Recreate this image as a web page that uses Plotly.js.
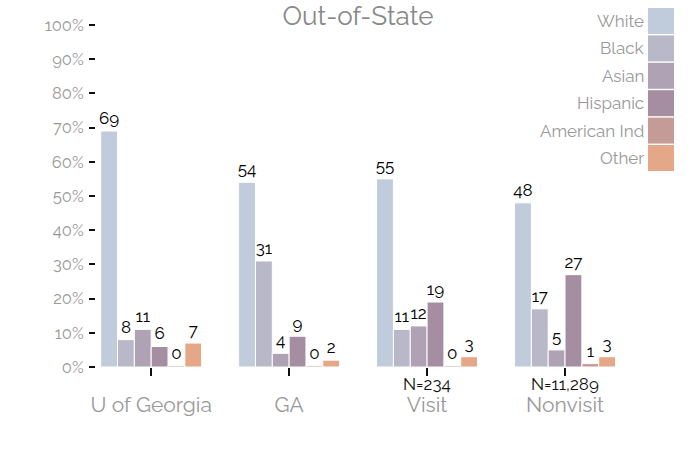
<!DOCTYPE html>
<html>
<head>
<meta charset="utf-8">
<script src="https://cdn.plot.ly/plotly-3.0.1.min.js"></script>
<style>html,body{margin:0;padding:0;background:#fff;}#chart{width:700px;height:450px;}</style>
</head>
<body>
<div id="chart"></div>
<script>
// ---- data ----
const categories = ["U of Georgia", "GA", "Visit", "Nonvisit"];
const nLabels = ["", "", "N=234", "N=11,289"];
const seriesNames = ["White", "Black", "Asian", "Hispanic", "American Ind", "Other"];
const white = [69, 54, 55, 48];
const black = [8, 31, 11, 17];
const asian = [11, 4, 12, 5];
const hispanic = [6, 9, 19, 27];
const americanInd = [0.4, 0.4, 0.4, 1];
const other = [7, 2, 3, 3];
const colors = ["#c0cbdb", "#b8b8c9", "#b0a2b5", "#a58ea2", "#c49b96", "#e4a888"];
const yTickVals = [0, 10, 20, 30, 40, 50, 60, 70, 80, 90, 100];
const yTickLabels = ["0%", "10%", "20%", "30%", "40%", "50%", "60%", "70%", "80%", "90%", "100%"];

const seriesValues = [white, black, asian, hispanic, americanInd, other];
const FONT = "Raleway, Lato, 'Open Sans', sans-serif";

const traces = seriesNames.map((name, i) => ({
  type: "bar",
  name: name,
  x: categories,
  y: seriesValues[i],
  marker: { color: colors[i], line: { color: "#ffffff", width: 1 } },
  text: seriesValues[i].map(v => String(Math.round(v))),
  texttemplate: "%{text}",
  textposition: "outside",
  constraintext: "none",
  textfont: { family: FONT, size: 17, color: "#000" },
  cliponaxis: false,
  showlegend: false,
  hoverinfo: "skip"
}));

const ML = 96, MR = 66, MT = 25, MB = 83;
const W = 700, H = 450;
const PW = W - ML - MR, PH = H - MT - MB;
const px = x => (x - ML) / PW;
const py = y => (H - MB - y) / PH;

const shapes = [], annotations = [];

// sample-size labels under the categories
categories.forEach((c, i) => {
  if (!nLabels[i]) return;
  annotations.push({
    xref: "x", yref: "paper", x: c, y: py(384),
    xanchor: "center", yanchor: "middle", showarrow: false,
    text: nLabels[i], font: { family: FONT, size: 17, color: "#111" }
  });
});

// custom legend (text left of swatch)
seriesNames.forEach((name, i) => {
  const top = 8 + i * 27.4;
  shapes.push({
    type: "rect", xref: "paper", yref: "paper",
    x0: px(648), x1: px(674), y0: py(top + 26), y1: py(top),
    fillcolor: colors[i], line: { width: 0 }
  });
  annotations.push({
    xref: "paper", yref: "paper", x: px(646), y: py(top + 13),
    xanchor: "right", yanchor: "middle", showarrow: false,
    text: name, font: { family: FONT, size: 17, color: "#999" }
  });
});

const layout = {
  width: W, height: H,
  margin: { l: ML, r: MR, t: MT, b: MB },
  paper_bgcolor: "#fff", plot_bgcolor: "#fff",
  font: { family: FONT, color: "#999" },
  title: {
    text: "Out-of-State",
    font: { family: FONT, size: 26, color: "#888" },
    xref: "container", x: 358 / W, xanchor: "center",
    yref: "container", y: 1 - 16 / H, yanchor: "middle"
  },
  barmode: "group",
  bargap: 0.268,
  bargroupgap: 0,
  xaxis: {
    type: "category",
    range: [-0.4, 3.5],
    tickvals: categories,
    ticktext: categories,
    ticks: "outside", ticklen: 8, tickwidth: 2, tickcolor: "#111",
    ticklabelstandoff: 11,
    showline: false, showgrid: false, zeroline: false,
    tickfont: { family: FONT, size: 21, color: "#999" },
    fixedrange: true
  },
  yaxis: {
    range: [0, 100],
    tickvals: yTickVals,
    ticktext: yTickLabels,
    ticks: "outside", ticklen: 6, tickwidth: 2, tickcolor: "#111",
    ticklabelstandoff: 2,
    showline: false, showgrid: false, zeroline: false,
    tickfont: { family: FONT, size: 16.5, color: "#999" },
    fixedrange: true
  },
  shapes: shapes,
  annotations: annotations
};

Plotly.newPlot("chart", traces, layout, { displayModeBar: false, staticPlot: true });
</script>
</body>
</html>
